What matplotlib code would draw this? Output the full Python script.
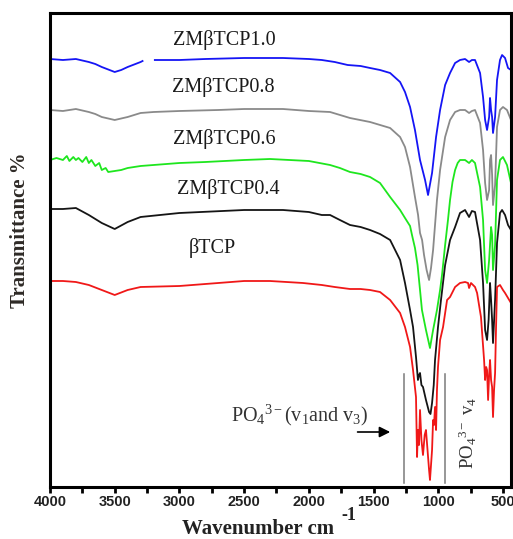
import numpy as np
import matplotlib
matplotlib.use("Agg")
import matplotlib.pyplot as plt
from matplotlib.ticker import MultipleLocator

plt.rcParams['mathtext.fontset'] = 'custom'
plt.rcParams['mathtext.rm'] = 'Liberation Serif'
plt.rcParams['mathtext.it'] = 'Liberation Serif:italic'
plt.rcParams['mathtext.bf'] = 'Liberation Serif:bold'

# FTIR spectra, (wavenumber cm-1, transmittance a.u. with stacking offset)
blue_pts = [(4000, 428), (3900, 427), (3800, 428), (3700, 425), (3650, 423), (3600, 420),
            (3500, 415), (3450, 417), (3400, 420), (3300, 425), (3285, 426), (3240, np.nan),
            (3190, 427), (3000, 427), (2800, 428), (2500, 429), (2200, 429), (2000, 428),
            (1900, 427), (1800, 425), (1700, 422), (1600, 421), (1527, 419), (1450, 417),
            (1372, 414), (1295, 405), (1257, 395), (1218, 380), (1180, 357), (1141, 327),
            (1102, 307), (1079, 292), (1048, 314), (1017, 350), (986, 377), (947, 402),
            (909, 414), (870, 424), (832, 427), (793, 428), (762, 425), (740, 427),
            (716, 427), (677, 414), (654, 390), (638, 367), (623, 357), (607, 370),
            (600, 389), (592, 377), (584, 370), (577, 354), (561, 370), (546, 407),
            (523, 427), (507, 432), (484, 429), (461, 419), (438, 417)]

gray_pts = [(4000, 377), (3900, 376), (3800, 378), (3700, 375), (3650, 373), (3600, 370),
            (3500, 367), (3400, 370), (3300, 374), (3200, 375), (3000, 376), (2700, 377),
            (2500, 378), (2200, 378), (2000, 376), (1836, 375), (1682, 369), (1527, 365),
            (1372, 359), (1295, 350), (1257, 340), (1218, 320), (1180, 290), (1156, 272),
            (1141, 254), (1125, 247), (1110, 232), (1090, 217), (1071, 207), (1056, 219),
            (1040, 237), (1025, 262), (1010, 287), (986, 317), (947, 350), (909, 367),
            (870, 375), (832, 377), (793, 377), (762, 374), (740, 376), (716, 377),
            (677, 364), (654, 337), (638, 304), (623, 287), (607, 297), (600, 327),
            (592, 332), (584, 312), (577, 282), (561, 302), (546, 360), (523, 377),
            (500, 380), (469, 377), (438, 367)]

green_pts = [(4000, 327), (3950, 329), (3900, 327), (3870, 331), (3850, 326), (3820, 330),
             (3800, 327), (3780, 329), (3750, 325), (3720, 330), (3700, 324), (3680, 327),
             (3650, 321), (3620, 324), (3600, 317), (3570, 319), (3550, 315), (3500, 316),
             (3450, 317), (3400, 319), (3300, 321), (3200, 322), (3000, 324), (2800, 325),
             (2500, 327), (2300, 328), (2000, 326), (1836, 322), (1760, 319), (1682, 315),
             (1600, 313), (1527, 310), (1450, 304), (1372, 290), (1295, 277), (1257, 269),
             (1218, 261), (1203, 252), (1180, 239), (1160, 222), (1141, 197), (1126, 177),
             (1095, 157), (1064, 139), (1040, 157), (1010, 177), (986, 197), (971, 212),
             (947, 242), (925, 267), (909, 287), (890, 305), (870, 317), (850, 324),
             (832, 327), (793, 327), (762, 324), (740, 327), (716, 324), (677, 300),
             (654, 267), (638, 217), (623, 204), (607, 227), (592, 260), (584, 252),
             (577, 217), (561, 242), (546, 307), (523, 327), (500, 330), (469, 322),
             (438, 304)]

black_pts = [(4000, 278), (3900, 278), (3800, 279), (3700, 272), (3600, 264), (3500, 258),
             (3400, 265), (3300, 270), (3000, 274), (2500, 277), (2200, 277), (2000, 275),
             (1900, 272), (1836, 272), (1760, 267), (1682, 262), (1600, 260), (1527, 257),
             (1450, 253), (1372, 247), (1295, 227), (1257, 204), (1218, 177), (1195, 160),
             (1172, 130), (1157, 107), (1149, 112), (1141, 114), (1130, 102), (1118, 100),
             (1095, 87), (1071, 75), (1060, 73), (1048, 84), (1035, 102), (1025, 127),
             (1002, 160), (979, 187), (947, 222), (909, 247), (870, 260), (832, 274),
             (793, 277), (762, 270), (740, 276), (716, 275), (677, 247), (654, 204),
             (638, 157), (623, 147), (611, 167), (600, 204), (592, 187), (584, 167),
             (577, 144), (561, 187), (546, 244), (523, 274), (507, 277), (484, 272),
             (461, 262), (438, 257)]

red_pts = [(4000, 206), (3900, 206), (3800, 205), (3700, 202), (3600, 197), (3500, 192),
           (3400, 197), (3300, 200), (3000, 201), (2700, 204), (2500, 206), (2300, 206),
           (2045, 204), (1900, 202), (1800, 200), (1682, 198), (1600, 198), (1527, 197),
           (1450, 195), (1372, 187), (1295, 174), (1257, 160), (1218, 140), (1195, 117),
           (1172, 90), (1164, 30), (1157, 57), (1149, 42), (1141, 77), (1130, 47),
           (1118, 32), (1105, 52), (1095, 57), (1080, 32), (1071, 17), (1064, 7),
           (1056, 22), (1048, 37), (1040, 67), (1033, 62), (1025, 80), (1017, 57),
           (1010, 97), (1002, 120), (986, 147), (963, 160), (932, 187), (909, 190),
           (870, 200), (832, 204), (793, 205), (770, 204), (762, 199), (747, 204),
           (716, 200), (700, 194), (670, 170), (646, 127), (638, 107), (630, 120),
           (623, 117), (615, 87), (607, 112), (600, 127), (592, 107), (584, 100),
           (577, 70), (569, 97), (561, 114), (554, 157), (546, 200), (523, 202),
           (500, 197), (484, 194), (461, 189), (438, 184)]

series = [(blue_pts, '#1515f5'), (gray_pts, '#8a8a8a'), (green_pts, '#1ee61e'),
          (black_pts, '#151515'), (red_pts, '#f01818')]

labels = ['ZM\u03b2TCP1.0', 'ZM\u03b2TCP0.8', 'ZM\u03b2TCP0.6', 'ZM\u03b2TCP0.4', '\u03b2TCP']
label_pos = [(2655, 447), (2663, 400), (2655, 348), (2624, 298), (2748, 239)]

band_lines = [1264, 947]
xticks = [4000, 3500, 3000, 2500, 2000, 1500, 1000, 500]

fig = plt.figure(figsize=(5.13, 5.39), dpi=100)
ax = fig.add_axes([50 / 513, 52 / 539, 461 / 513, 474 / 539])

for pts, col in series:
    arr = np.array(pts, dtype=float)
    ax.plot(arr[:, 0], arr[:, 1], color=col, lw=1.3)

for (x, y), lab in zip(label_pos, labels):
    ax.text(x, y, lab, ha='center', va='center', fontsize=14.5,
            family='Liberation Serif', color='#1a1a1a')

# band markers
for bx in band_lines:
    ax.plot([bx, bx], [4, 113], color='#7a7a7a', lw=1.1)

ax.text(2068, 72, r'PO$_4$$^{3-}$(v$_1$and v$_3$)', ha='center', va='center',
        fontsize=14.5, family='Liberation Serif', color='#333333')
ax.annotate('', xy=(1350, 55), xytext=(1645, 55),
            arrowprops=dict(arrowstyle='-|>', color='k', lw=1.2, mutation_scale=16))
ax.text(770, 54, r'PO$_4$$^{3-}$ v$_4$', ha='center', va='center', rotation=90,
        fontsize=13.5, family='Liberation Serif', color='#333333')

ax.set_xlim(4000, 438)
ax.set_ylim(0, 474)
ax.xaxis.set_major_locator(MultipleLocator(500))
ax.xaxis.set_minor_locator(MultipleLocator(250))
ax.set_xticks(xticks)
ax.set_yticks([])
ax.tick_params(axis='x', which='both', direction='out', length=4, width=2, pad=2)
for t in ax.get_xticklabels():
    t.set_fontfamily('Liberation Sans')
    t.set_fontweight('bold')
    t.set_fontsize(10.5)
    t.set_color('#222222')
for s in ax.spines.values():
    s.set_linewidth(2.2)

fig.text(258 / 513, 1 - 529 / 539, 'Wavenumber cm', ha='center', va='center',
         fontsize=15, fontweight='bold', family='Liberation Serif', color='#222222')
fig.text(349 / 513, 1 - 515 / 539, '-1', ha='center', va='center',
         fontsize=13, fontweight='bold', family='Liberation Serif', color='#222222')
fig.text(20 / 513, 1 - 230 / 539, 'Transmittance %', ha='center', va='center',
         rotation=90, fontsize=15, fontweight='bold', family='Liberation Serif',
         color='#2e2a26')

fig.savefig('out.png', dpi=100)
